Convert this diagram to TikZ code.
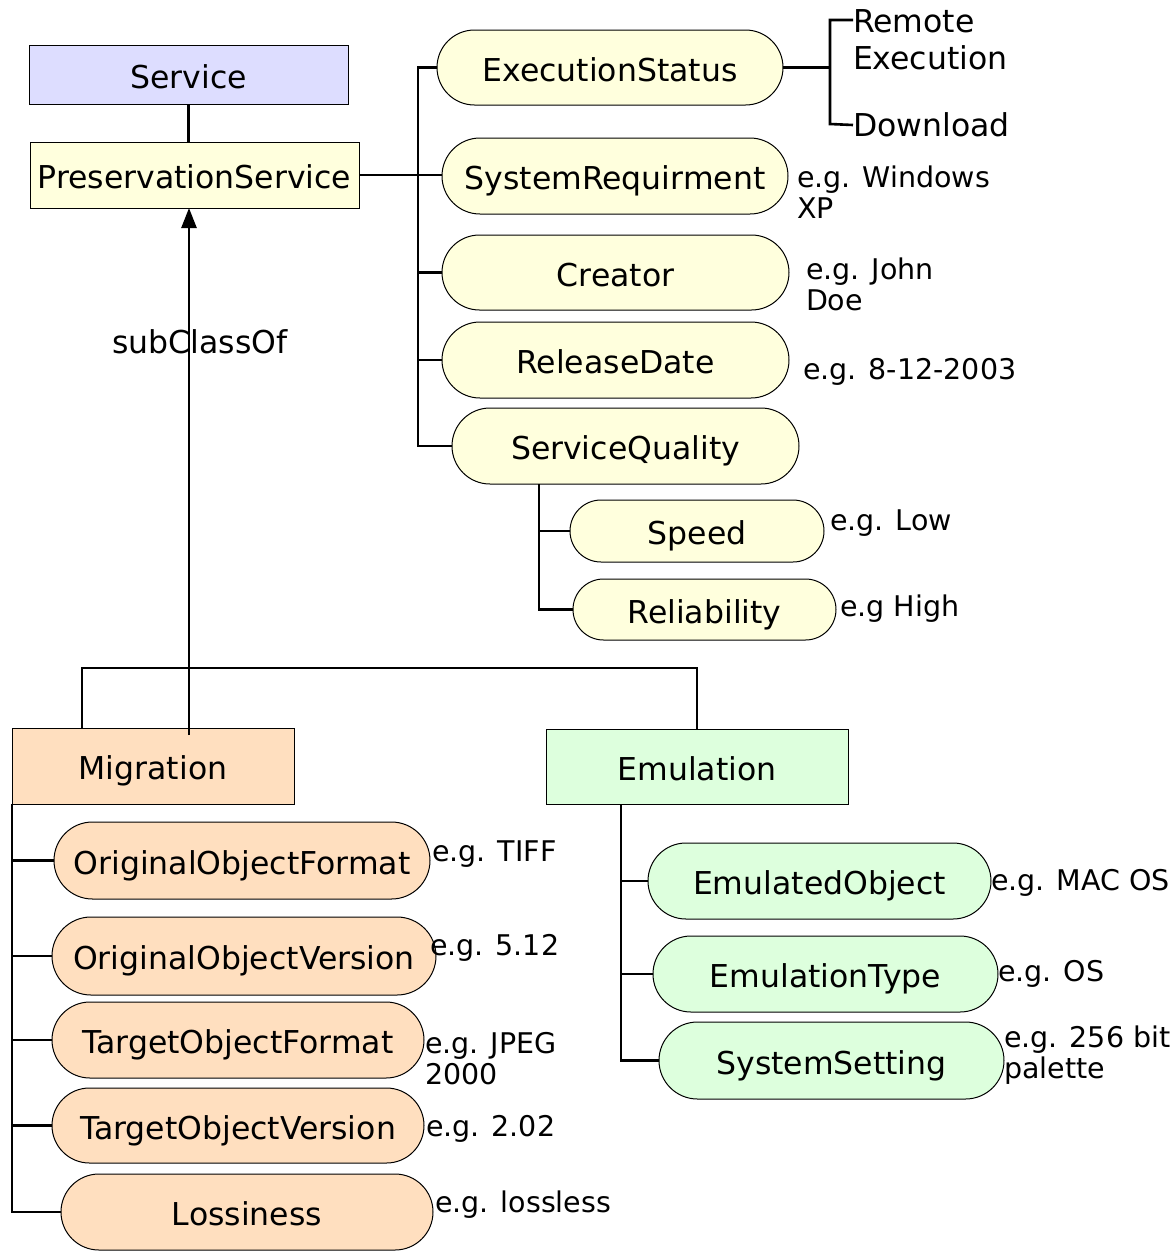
\documentclass[tikz,border=0pt]{standalone}
\usepackage{fontspec}
\setmainfont{DejaVu Sans}
\usetikzlibrary{arrows.meta}
\definecolor{svc}{HTML}{DDDDFF}
\definecolor{yel}{HTML}{FFFFDD}
\definecolor{pch}{HTML}{FFDFBF}
\definecolor{grn}{HTML}{DDFFDD}
\begin{document}
\begin{tikzpicture}[x=1pt,y=-1pt,
  every node/.style={inner sep=0pt, outer sep=0pt},
  nfont/.style={font=\fontsize{31.5}{37}\selectfont},
  rbox/.style={draw, line width=1pt, nfont, text height=27pt, text depth=0pt},
  capsule/.style={draw, line width=1pt, nfont, text height=27pt, text depth=0pt},
  lbl/.style={font=\fontsize{28.5}{31}\selectfont, align=left, anchor=west},
  conn/.style={line width=2.6pt}]
\useasboundingbox (0,0) rectangle (1173,1254);
% class boxes
\node[rbox, fill=svc, minimum width=319pt, minimum height=59pt] (srv) at (188.5,74.5) {Service};
\node[rbox, fill=yel, minimum width=329pt, minimum height=66pt] (ps) at (194.5,175) {PreservationService};
\node[rbox, fill=pch, minimum width=282pt, minimum height=76pt] (mig) at (153,766) {Migration};
\node[rbox, fill=grn, minimum width=302pt, minimum height=75pt] (emu) at (697,766.5) {Emulation};
% yellow capsules
\node[capsule, fill=yel, minimum width=346pt, minimum height=75pt, rounded corners=37.5pt] (es) at (610,67.5) {ExecutionStatus};
\node[capsule, fill=yel, minimum width=346pt, minimum height=76pt, rounded corners=38pt] (sr) at (615,176) {SystemRequirment};
\node[capsule, fill=yel, minimum width=347pt, minimum height=75pt, rounded corners=37.5pt] (cr) at (615.5,272.5) {Creator};
\node[capsule, fill=yel, minimum width=347pt, minimum height=76pt, rounded corners=38pt] (rd) at (615.5,360) {ReleaseDate};
\node[capsule, fill=yel, minimum width=347pt, minimum height=76pt, rounded corners=38pt] (sq) at (625.5,446) {ServiceQuality};
\node[capsule, fill=yel, minimum width=254pt, minimum height=62pt, rounded corners=31pt] (sp) at (697,531) {Speed};
\node[capsule, fill=yel, minimum width=263pt, minimum height=61pt, rounded corners=30.5pt] (rl) at (704.5,609.5) {Reliability};
% peach capsules
\node[capsule, fill=pch, minimum width=376pt, minimum height=77pt, rounded corners=38.5pt] (oof) at (242,860.5) {OriginalObjectFormat};
\node[capsule, fill=pch, minimum width=384pt, minimum height=78pt, rounded corners=39pt] (oov) at (244,956) {OriginalObjectVersion};
\node[capsule, fill=pch, minimum width=372pt, minimum height=76pt, rounded corners=38pt] (tof) at (238,1040) {TargetObjectFormat};
\node[capsule, fill=pch, minimum width=372pt, minimum height=75pt, rounded corners=37.5pt] (tov) at (238,1125.5) {TargetObjectVersion};
\node[capsule, fill=pch, minimum width=372pt, minimum height=76pt, rounded corners=38pt] (los) at (247,1212) {Lossiness};
% green capsules
\node[capsule, fill=grn, minimum width=343pt, minimum height=76pt, rounded corners=38pt] (eo) at (819.5,881) {EmulatedObject};
\node[capsule, fill=grn, minimum width=345pt, minimum height=76pt, rounded corners=38pt] (ety) at (825.5,974) {EmulationType};
\node[capsule, fill=grn, minimum width=345pt, minimum height=77pt, rounded corners=38.5pt] (ss) at (831.5,1060.5) {SystemSetting};
% labels
\node[nfont] (sub) at (200,342) {subClassOf};
\node[nfont, align=left, anchor=west] (rem) at (853,39.5) {Remote\\Execution};
\node[nfont, anchor=west] (dl) at (853,125) {Download};
\node[lbl] (l1) at (797,192) {e.g. Windows\\XP};
\node[lbl] (l2) at (806,284) {e.g. John\\Doe};
\node[lbl] (l3) at (803,372) {e.g. 8-12-2003};
\node[lbl] (l4) at (830,523) {e.g. Low};
\node[lbl] (l5) at (840,609) {e.g High};
\node[lbl] (l6) at (432,854) {e.g. TIFF};
\node[lbl] (l7) at (430,948) {e.g. 5.12};
\node[lbl] (l8) at (425,1059) {e.g. JPEG\\2000};
\node[lbl] (l9) at (426,1129) {e.g. 2.02};
\node[lbl] (l10) at (435,1205) {e.g. lossless};
\node[lbl] (l11) at (991,883) {e.g. MAC OS};
\node[lbl] (l12) at (998,974) {e.g. OS};
\node[lbl] (l13) at (1004,1055) {e.g. 256 bit\\palette};
% helper coordinates
\coordinate (tk) at (418,0);
\coordinate (sqt) at (539,0);
\coordinate (esb) at (830,0);
\coordinate (remT) at (830,20);
\coordinate (dlT) at (830,124);
\coordinate (arrS) at (189,735);
\coordinate (barL) at (82,668);
\coordinate (barR) at (697,668);
\coordinate (emt) at (621,0);
% connectors
\draw[conn] (srv.south) -- (srv.south |- ps.north);
\draw[conn, -{Triangle[length=20pt,width=15pt]}] (arrS) -- (arrS |- ps.south);
\draw[conn] (barL |- mig.north) -- (barL) -- (barR) -- (emu.north);
\draw[conn] (ps.east) -- (ps.east -| sr.west);
\draw[conn] (es.west) -- (es.west -| tk) -- (sq.west -| tk) -- (sq.west);
\draw[conn] (cr.west) -- (cr.west -| tk);
\draw[conn] (rd.west) -- (rd.west -| tk);
\draw[conn] (sq.south -| sqt) -- (rl.west -| sqt) -- (rl.west);
\draw[conn] (sp.west) -- (sp.west -| sqt);
\draw[conn] (es.east) -- (es.east -| esb);
\draw[conn] (rem.west |- remT) -- (remT) -- (dlT) -- (dl.west);
\draw[conn] (mig.south west) -- (mig.south west |- los.west) -- (los.west);
\draw[conn] (oof.west) -- (oof.west -| mig.south west);
\draw[conn] (oov.west) -- (oov.west -| mig.south west);
\draw[conn] (tof.west) -- (tof.west -| mig.south west);
\draw[conn] (tov.west) -- (tov.west -| mig.south west);
\draw[conn] (emu.south -| emt) -- (ss.west -| emt) -- (ss.west);
\draw[conn] (eo.west) -- (eo.west -| emt);
\draw[conn] (ety.west) -- (ety.west -| emt);
\end{tikzpicture}
\end{document}
